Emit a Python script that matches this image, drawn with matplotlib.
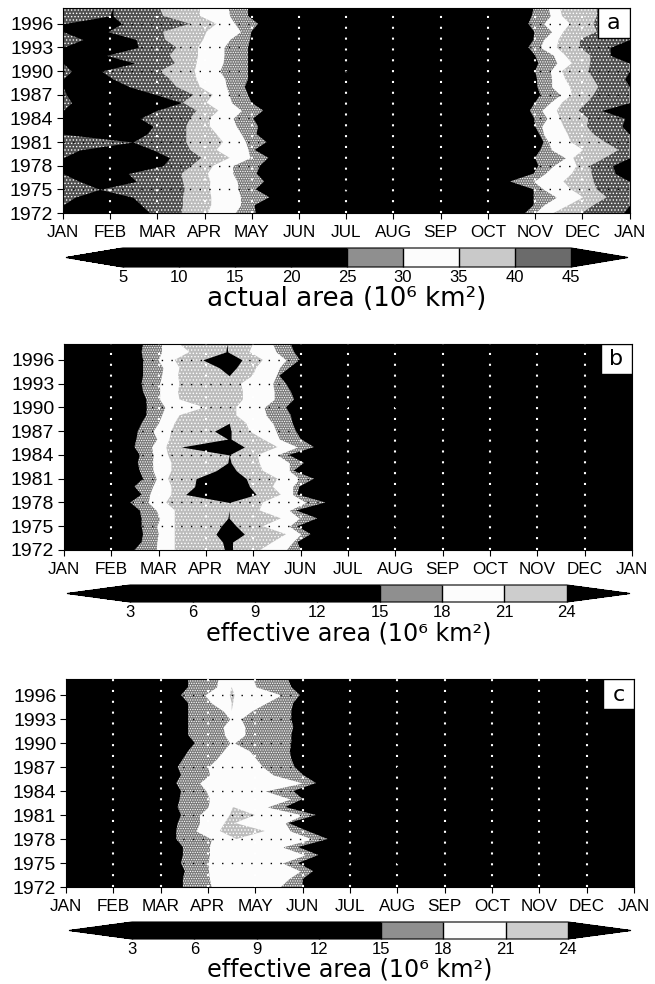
import numpy as np
import matplotlib
matplotlib.use('Agg')
import matplotlib.pyplot as plt
from matplotlib.cm import ScalarMappable
from matplotlib.colors import ListedColormap, BoundaryNorm
from matplotlib.patches import Rectangle

W, H = 655, 984

months = ['JAN','FEB','MAR','APR','MAY','JUN','JUL','AUG','SEP','OCT','NOV','DEC','JAN']
years = np.arange(1972, 1999)
year_ticks = np.arange(1972, 1997, 3)

# panel a, contour positions in months after 1 Jan, one value per year
# spring edges
a_s25 = [4.08,4.06,4.37,4.08,4.26,4.10,4.17,4.35,4.06,4.31,4.10,4.13,4.03,4.24,3.99,3.92,3.85,3.92,3.92,3.92,3.92,3.92,3.96,3.99,4.13,3.92,3.92]
a_s30 = [3.64,3.76,3.76,3.71,3.69,3.60,3.59,3.96,3.92,3.87,3.78,3.67,3.60,3.78,3.57,3.52,3.46,3.43,3.32,3.39,3.41,3.41,3.53,3.76,3.64,3.53,3.50]
a_s35 = [3.07,3.14,3.14,3.11,3.12,3.07,3.18,3.53,3.25,3.39,3.25,3.11,3.11,3.29,3.04,3.17,2.90,2.83,2.79,2.83,2.86,2.86,2.97,3.04,3.25,2.90,2.90]
a_s40 = [2.51,2.54,2.54,2.58,2.54,2.51,2.72,2.93,2.69,2.61,2.61,2.61,2.69,2.83,2.54,2.76,2.40,2.26,2.05,2.37,2.26,2.40,2.16,2.12,2.69,2.12,2.05]
# winter maximum above 45 (start and end of the black part)
a_s45l = [0,0,.25,.78,.35,0,0,0,.35,1.48,0,0,0,0,.18,.07,0,0,.18,0,0,0,.42,0,0,.99,1.06]
a_s45r = [1.84,1.66,1.48,.78,1.55,1.38,2.12,2.26,1.91,1.48,1.77,1.91,1.63,1.98,2.51,1.98,1.41,1.06,.81,1.52,.92,1.59,1.55,.95,1.24,1.06,1.06]
# autumn edges
a_f25 = [9.79,9.97,9.97,9.97,9.47,9.97,10.07,10.0,10.11,10.18,10.09,10.0,9.98,9.89,10.0,10.11,10.05,10.04,10.0,10.07,10.0,9.86,9.97,9.98,9.86,9.93,9.97]
a_f30 = [10.0,10.18,10.45,10.18,9.97,10.21,10.39,10.64,10.35,10.28,10.18,10.14,10.25,10.14,10.32,10.53,10.35,10.35,10.32,10.46,10.39,10.11,10.18,10.35,10.18,10.32,10.28]
a_f35 = [10.39,10.71,11.02,10.76,10.6,10.78,10.88,10.81,11.02,10.76,10.69,10.6,10.53,10.46,10.57,10.78,10.74,10.64,10.57,10.78,10.64,10.46,10.5,10.6,10.74,10.57,10.53]
a_f40 = [10.99,11.24,11.52,11.31,11.24,11.2,11.17,11.48,11.77,11.48,11.24,11.1,11.13,10.92,11.1,11.24,11.34,11.24,11.13,11.17,11.17,10.95,10.95,11.31,11.24,11.31,11.31]
a_f45 = [11.87,12,12,12,12,11.7,11.64,12,12,12,12,11.84,11.9,11.41,12,12,12,11.9,12,12,11.59,11.59,12,12,12,12,12]

# panel b
b_l15 = [1.49,1.64,1.67,1.64,1.64,1.6,1.4,1.64,1.49,1.67,1.6,1.56,1.6,1.49,1.53,1.56,1.64,1.74,1.75,1.74,1.67,1.64,1.67,1.67,1.67,1.64,1.67]
b_l18 = [1.95,1.96,1.99,1.96,2.02,1.95,1.78,1.81,1.87,1.95,1.88,1.87,1.88,1.85,1.96,1.88,1.99,2.06,2.13,2.02,2.02,2.02,2.06,2.09,1.99,2.06,2.06]
b_l21 = [2.34,2.34,2.34,2.34,2.34,2.34,2.16,2.27,2.27,2.2,2.27,2.27,2.2,2.16,2.23,2.27,2.34,2.44,2.97,2.44,2.41,2.44,2.41,2.44,2.34,2.65,2.44]
b_r21 = [4.14,4.41,4.69,4.2,4.58,4.13,4.2,4.58,4.41,4.51,4.2,4.13,4.09,4.51,4.2,3.92,3.85,3.64,3.64,3.78,3.78,3.74,3.99,4.06,4.2,3.92,3.99]
b_r18 = [4.69,4.83,5.0,4.76,4.97,4.76,5.11,4.83,4.83,4.97,4.76,4.76,4.51,4.93,4.55,4.48,4.41,4.27,4.23,4.44,4.44,4.41,4.48,4.55,4.69,4.48,4.41]
b_r15 = [5.0,4.93,5.21,4.93,5.35,4.9,5.52,4.93,4.97,5.28,4.85,5.07,4.75,5.28,5.0,4.9,4.83,4.79,4.69,4.86,4.79,4.69,4.55,4.76,4.98,4.86,4.79]
b_l24 = [3.39,3.35,3.21,3.32,3.46,3.49,3.49,2.57,2.76,2.79,3.21,3.46,3.49,2.48,3.46,3.18,3.49,3.49,3.49,3.49,3.49,3.49,3.49,3.28,2.93,3.42,3.44]
b_r24 = [3.56,3.56,3.81,3.64,3.49,3.49,3.49,4.06,3.92,3.85,3.64,3.53,3.49,3.81,3.53,3.53,3.49,3.49,3.49,3.49,3.49,3.49,3.49,3.64,3.76,3.46,3.44]

# panel c
c_l15 = [2.47,2.47,2.51,2.43,2.47,2.47,2.33,2.33,2.36,2.43,2.36,2.4,2.43,2.33,2.43,2.36,2.47,2.58,2.72,2.58,2.58,2.58,2.58,2.58,2.43,2.58,2.58]
c_l18 = [3.07,3.03,3.01,3.0,3.03,3.03,3.07,2.75,2.82,2.82,3.0,3.03,2.96,2.82,3.03,3.0,3.18,3.32,3.46,3.35,3.32,3.46,3.32,3.07,2.93,3.18,3.21]
c_l21 = [3.5,3.5,3.5,3.5,3.5,3.5,3.6,3.25,3.35,3.46,3.53,3.5,3.5,3.5,3.5,3.5,3.5,3.5,3.5,3.5,3.5,3.5,3.5,3.5,3.46,3.5,3.5]
c_r21 = [3.5,3.5,3.5,3.5,3.5,3.5,3.6,4.2,3.57,3.99,3.53,3.5,3.5,3.5,3.5,3.5,3.5,3.5,3.5,3.5,3.5,3.5,3.5,3.53,3.56,3.5,3.5]
c_r18 = [4.52,4.7,4.95,4.57,5.05,4.57,5.2,4.74,4.63,5.0,4.25,4.74,4.21,5.0,4.38,4.16,4.02,3.88,3.56,3.78,3.78,3.7,3.92,4.23,4.55,4.02,3.95]
c_r15 = [5.0,5.0,5.22,4.9,5.33,4.9,5.53,5.1,4.7,5.28,4.63,5.0,4.8,5.28,5.01,4.83,4.76,4.73,4.76,4.76,4.8,4.76,4.76,4.8,4.94,4.76,4.69]

# colour bars
a_levels = [5,10,15,20,25,30,35,40,45]
b_levels = [3,6,9,12,15,18,21,24]
a_colors = ['k','k','k','k','#8f8f8f','#fcfcfc','#c9c9c9','#6b6b6b']
b_colors = ['k','k','k','k','#8f8f8f','#fcfcfc','#cdcdcd']

WHITE = '#fcfcfc'
# base colour and halftone hatch of the shaded bands
MID = ('#7a7a7a', '.......')
LIGHT = ('#bcbcbc', '.....')
DARK = ('#505050', '.....')

plt.rcParams['font.family'] = ['Liberation Sans', 'DejaVu Sans']
plt.rcParams['hatch.linewidth'] = 0.6
narrow = ['Liberation Sans Narrow', 'Liberation Sans']


def px_axes(fig, left, top, right, bottom):
    return fig.add_axes([left/W, 1-bottom/H, (right-left)/W, (bottom-top)/H])


def band(ax, left, right, style):
    if isinstance(style, tuple):
        ax.fill_betweenx(years, left, right, facecolor=style[0], edgecolor='white',
                         hatch=style[1], linewidth=0)
    else:
        ax.fill_betweenx(years, left, right, color=style, linewidth=0)


def finish(ax, letter):
    ax.set_xlim(0, 12)
    ax.set_ylim(1972, 1998)
    ax.set_facecolor('k')
    ax.set_xticks(range(13))
    ax.set_xticklabels(months, family=narrow, fontsize=12.3)
    ax.set_yticks(year_ticks)
    ax.set_yticklabels(year_ticks, fontsize=14)
    ax.tick_params(axis='both', direction='out', length=4.5, width=0.8)
    ax.tick_params(axis='x', pad=4)
    ax.tick_params(axis='y', pad=2.5)
    for m in range(1, 12):
        ax.axvline(m, color='white', lw=1.5, ls=(0, (1, 4.2)), zorder=5)
    for y in year_ticks[1:]:
        ax.axhline(y, color='k', lw=1.0, ls=(0, (1, 6)), zorder=5)
    ax.add_patch(Rectangle((0.945, 0.855), 0.055, 0.145, transform=ax.transAxes,
                           facecolor='white', edgecolor='k', lw=1, zorder=6))
    ax.text(0.9725, 0.925, letter, transform=ax.transAxes, ha='center', va='center',
            fontsize=16, zorder=7, family='DejaVu Sans')


def colorbar(fig, rect, levels, colors, extfrac, label, label_y, label_size):
    cax = px_axes(fig, *rect)
    cmap = ListedColormap(colors)
    cmap.set_under('k')
    cmap.set_over('k')
    norm = BoundaryNorm(levels, cmap.N)
    cb = fig.colorbar(ScalarMappable(norm=norm, cmap=cmap), cax=cax, orientation='horizontal',
                      extend='both', extendfrac=extfrac, spacing='proportional',
                      ticks=levels, drawedges=True)
    cb.dividers.set_color('k')
    cb.dividers.set_linewidth(1)
    cb.outline.set_linewidth(0.8)
    cax.tick_params(length=0, pad=2.5, labelsize=12)
    fig.text((rect[0]+rect[2])/2/W, 1-label_y/H, label, ha='center', va='center',
             fontsize=label_size, family='DejaVu Sans')


fig = plt.figure(figsize=(W/100, H/100), dpi=100)

# ------------------------------
ax1 = px_axes(fig, 63, 8, 629.5, 213)
band(ax1, 0, a_s25, MID)
band(ax1, a_f25, 12, MID)
band(ax1, 0, a_s30, WHITE)
band(ax1, a_f30, 12, WHITE)
band(ax1, 0, a_s35, LIGHT)
band(ax1, a_f35, 12, LIGHT)
band(ax1, 0, a_s40, DARK)
band(ax1, a_f40, 12, DARK)
band(ax1, a_s45l, a_s45r, 'k')
band(ax1, a_f45, 12, 'k')
finish(ax1, 'a')
colorbar(fig, (66, 248, 628, 267), a_levels, a_colors, 0.127, 'actual area (10\u2076 km\u00b2)', 299, 18.8)

# ------------------------------
ax2 = px_axes(fig, 64, 344, 632, 550)
band(ax2, b_l15, b_r15, MID)
band(ax2, b_l18, b_r18, WHITE)
band(ax2, b_l21, b_r21, LIGHT)
band(ax2, b_l24, b_r24, 'k')
finish(ax2, 'b')
colorbar(fig, (67, 585, 630, 602), b_levels, b_colors, 0.145, 'effective area (10\u2076 km\u00b2)', 633, 17.2)

# ------------------------------
ax3 = px_axes(fig, 66, 679, 634, 887)
band(ax3, c_l15, c_r15, MID)
band(ax3, c_l18, c_r18, WHITE)
band(ax3, c_l21, c_r21, LIGHT)
finish(ax3, 'c')
colorbar(fig, (69, 922, 631, 939), b_levels, b_colors, 0.145, 'effective area (10\u2076 km\u00b2)', 970, 17.2)

fig.savefig('out.png', dpi=100)
